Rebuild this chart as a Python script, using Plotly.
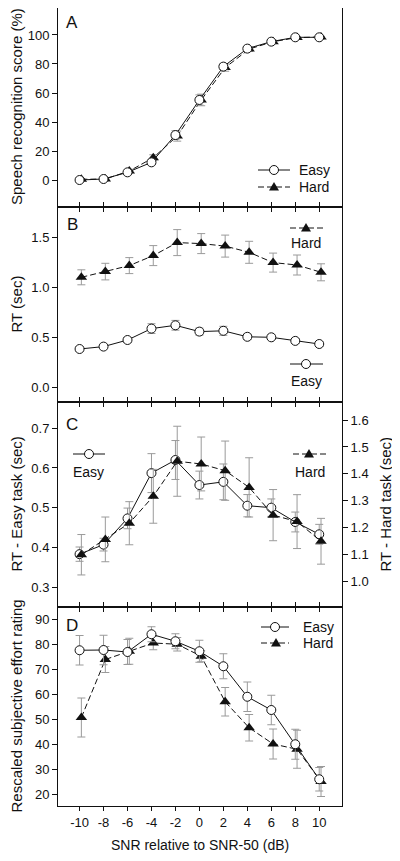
import plotly.graph_objects as go

# ---------------- data ----------------
snr = [-10, -8, -6, -4, -2, 0, 2, 4, 6, 8, 10]

score_easy = [0.0, 0.7, 5.3, 12.2, 31.0, 55.2, 78.2, 90.6, 95.4, 98.4, 98.4]
score_easy_err = [0.8, 0.8, 1.0, 1.5, 3.0, 3.5, 2.0, 1.5, 1.0, 0.8, 0.8]
score_hard = [0.5, 0.7, 6.2, 15.4, 30.3, 55.2, 77.5, 90.3, 95.4, 98.2, 98.6]
score_hard_err = [0.5, 0.8, 1.2, 2.0, 3.5, 4.0, 2.5, 1.5, 1.0, 0.8, 0.5]

rt_easy = [0.383, 0.407, 0.473, 0.587, 0.620, 0.557, 0.565, 0.505, 0.500, 0.464, 0.433]
rt_easy_err = [0.018, 0.016, 0.026, 0.049, 0.049, 0.035, 0.045, 0.028, 0.022, 0.025, 0.025]
rt_hard = [1.100, 1.157, 1.217, 1.317, 1.447, 1.437, 1.412, 1.350, 1.247, 1.223, 1.150]
rt_hard_err = [0.075, 0.083, 0.080, 0.100, 0.130, 0.100, 0.110, 0.110, 0.095, 0.100, 0.085]

effort_easy = [77.6, 77.7, 76.9, 84.0, 81.2, 77.2, 71.2, 59.0, 53.7, 40.0, 26.0]
effort_easy_err = [5.9, 5.9, 5.0, 3.0, 3.0, 4.4, 5.0, 5.9, 5.9, 6.0, 4.7]
effort_hard = [50.7, 73.9, 77.2, 80.5, 80.0, 75.2, 57.0, 46.6, 40.1, 38.0, 25.1]
effort_hard_err = [7.8, 5.2, 5.2, 2.7, 2.7, 2.2, 5.7, 5.3, 6.0, 7.6, 6.0]

x_ticks = [-10, -8, -6, -4, -2, 0, 2, 4, 6, 8, 10]
x_ticktext = ["-10", "-8", "-6", "-4", "-2", "0", "2", "4", "6", "8", "10"]

# ---------------- style ----------------
FONT = "Liberation Sans, Arial, sans-serif"
BLACK = "#111111"
ERR = "#9a9a9a"
PAGE_OFF = 8                      # default body margin of the html page
W, H = 400 - 2 * PAGE_OFF, 861 - 2 * PAGE_OFF
# plot area in page pixels
L, R, T, B = 58, 342, 8, 806
hard_shift = 0.15
snr_hard = [v + hard_shift for v in snr]


def px(xp):
    return (xp - L) / (R - L)


def py(yp):
    return (B - yp) / (B - T)


def easy_trace(x, y, e, xa, ya):
    return go.Scatter(
        x=x, y=y, xaxis=xa, yaxis=ya, mode="lines+markers", showlegend=False,
        line=dict(color=BLACK, width=1),
        marker=dict(symbol="circle", size=9, color="white", line=dict(color=BLACK, width=1)),
        error_y=dict(type="data", array=e, color=ERR, thickness=1, width=4),
    )


def hard_trace(x, y, e, xa, ya):
    return go.Scatter(
        x=x, y=y, xaxis=xa, yaxis=ya, mode="lines+markers", showlegend=False,
        line=dict(color=BLACK, width=1, dash="6px,3px"),
        marker=dict(symbol="triangle-up", size=10, color=BLACK, line=dict(color=BLACK, width=0)),
        error_y=dict(type="data", array=e, color=ERR, thickness=1, width=4),
    )


fig = go.Figure()
# Panel A
fig.add_trace(hard_trace(snr_hard, score_hard, score_hard_err, "x", "y"))
fig.add_trace(easy_trace(snr, score_easy, score_easy_err, "x", "y"))
# Panel B
fig.add_trace(hard_trace(snr_hard, rt_hard, rt_hard_err, "x2", "y2"))
fig.add_trace(easy_trace(snr, rt_easy, rt_easy_err, "x2", "y2"))
# Panel C
fig.add_trace(hard_trace(snr_hard, rt_hard, rt_hard_err, "x3", "y5"))
fig.add_trace(easy_trace(snr, rt_easy, rt_easy_err, "x3", "y3"))
# Panel D
fig.add_trace(hard_trace(snr_hard, effort_hard, effort_hard_err, "x4", "y4"))
fig.add_trace(easy_trace(snr, effort_easy, effort_easy_err, "x4", "y4"))

tickfont = dict(family=FONT, size=13, color=BLACK)
xr = [-11.8, 11.9]

for i in range(4):
    n = "" if i == 0 else str(i + 1)
    last = i == 3
    fig.layout["xaxis" + n] = dict(
        domain=[0, 1], anchor="y" + n, range=xr, tickvals=x_ticks, ticktext=x_ticktext,
        showticklabels=last, ticks="outside", ticklen=4, tickcolor=BLACK,
        showline=True, linecolor=BLACK, linewidth=1,
        mirror=True if i == 0 else "ticks",
        showgrid=False, zeroline=False, tickfont=tickfont,
    )

common_y = dict(ticks="outside", ticklen=5, tickcolor=BLACK, showline=True, linecolor=BLACK,
                linewidth=1, showgrid=False, zeroline=False, tickfont=tickfont)

fig.update_layout(
    yaxis=dict(domain=[py(207), py(8)], anchor="x", range=[-18.6, 118.6],
               tickvals=[0, 20, 40, 60, 80, 100], mirror=True, **common_y),
    yaxis2=dict(domain=[py(402), py(207)], anchor="x2", range=[-0.147, 1.803],
                tickvals=[0.0, 0.5, 1.0, 1.5], tickformat=".1f", mirror=True, **common_y),
    yaxis3=dict(domain=[py(607), py(402)], anchor="x3", range=[0.25, 0.766],
                tickvals=[0.3, 0.4, 0.5, 0.6, 0.7], tickformat=".1f", mirror=False, **common_y),
    yaxis5=dict(overlaying="y3", anchor="x3", side="right", range=[0.906, 1.667],
                tickvals=[1.0, 1.1, 1.2, 1.3, 1.4, 1.5, 1.6], tickformat=".1f", **common_y),
    yaxis4=dict(domain=[py(806), py(607)], anchor="x4", range=[15.3, 94.9],
                tickvals=[20, 30, 40, 50, 60, 70, 80, 90], mirror=True, **common_y),
)

annotations = []
shapes = []


def text(xp, yp, s, size=14, xanchor="center", angle=0):
    annotations.append(dict(
        xref="paper", yref="paper", x=px(xp), y=py(yp), text=s, showarrow=False,
        xanchor=xanchor, yanchor="middle", textangle=angle,
        font=dict(family=FONT, size=size, color=BLACK),
    ))


# axis titles
title_x = 16
text(title_x, (7 + 207) / 2, "Speech recognition score (%)", 15, angle=-90)
text(title_x, (207 + 402) / 2, "RT (sec)", 15, angle=-90)
text(title_x, (402 + 607) / 2, "RT - Easy task (sec)", 15, angle=-90)
text(title_x, (607 + 806) / 2, "Rescaled subjective effort rating", 15, angle=-90)
text(385, (402 + 607) / 2, "RT - Hard task (sec)", 15, angle=-90)
text((L + R) / 2, 845, "SNR relative to SNR-50 (dB)", 14)

# panel letters
for lab, yy in zip(["A", "B", "C", "D"], [22, 225, 425, 625]):
    text(72, yy, lab, 17)


def leg_line(x0, x1, yp, dashed):
    shapes.append(dict(type="line", xref="paper", yref="paper",
                       x0=px(x0), x1=px(x1), y0=py(yp), y1=py(yp),
                       line=dict(color=BLACK, width=1, dash="6px,3px" if dashed else "solid")))


def leg_circle(xc, yc):
    shapes.append(dict(type="circle", xref="paper", yref="paper",
                       xsizemode="pixel", ysizemode="pixel", xanchor=px(xc), yanchor=py(yc),
                       x0=-4.5, x1=4.5, y0=-4.5, y1=4.5,
                       fillcolor="white", line=dict(color=BLACK, width=1), layer="above"))


def leg_tri(xc, yc):
    shapes.append(dict(type="path", xref="paper", yref="paper",
                       xsizemode="pixel", ysizemode="pixel", xanchor=px(xc), yanchor=py(yc),
                       path="M -5,-3.5 L 5,-3.5 L 0,5 Z",
                       fillcolor=BLACK, line=dict(color=BLACK, width=0), layer="above"))


# Legend A
leg_line(258, 290, 170, False); leg_circle(274, 170); text(297, 170, "Easy", 14, "left")
leg_line(258, 290, 187, True); leg_tri(274, 187); text(297, 187, "Hard", 14, "left")
# Legend B
leg_line(290, 323, 228, True); leg_tri(306, 228); text(306, 243, "Hard", 14)
leg_line(290, 323, 364, False); leg_circle(306, 364); text(306, 381, "Easy", 14)
# Legend C
leg_line(73, 105, 454, False); leg_circle(89, 454); text(88, 472, "Easy", 14)
leg_line(293, 326, 454, True); leg_tri(309, 454); text(310, 472, "Hard", 14)
# Legend D
leg_line(261, 289, 627, False); leg_circle(275, 627); text(301, 627, "Easy", 14, "left")
leg_line(261, 289, 643, True); leg_tri(276, 643); text(301, 643, "Hard", 14, "left")

fig.update_layout(
    width=W, height=H,
    margin=dict(l=L - PAGE_OFF, r=(400 - PAGE_OFF) - R, t=T - PAGE_OFF,
                b=(861 - PAGE_OFF) - B, autoexpand=False),
    paper_bgcolor="white", plot_bgcolor="white",
    showlegend=False,
    annotations=annotations, shapes=shapes,
    font=dict(family=FONT, color=BLACK),
)

fig.write_html("out.html")
